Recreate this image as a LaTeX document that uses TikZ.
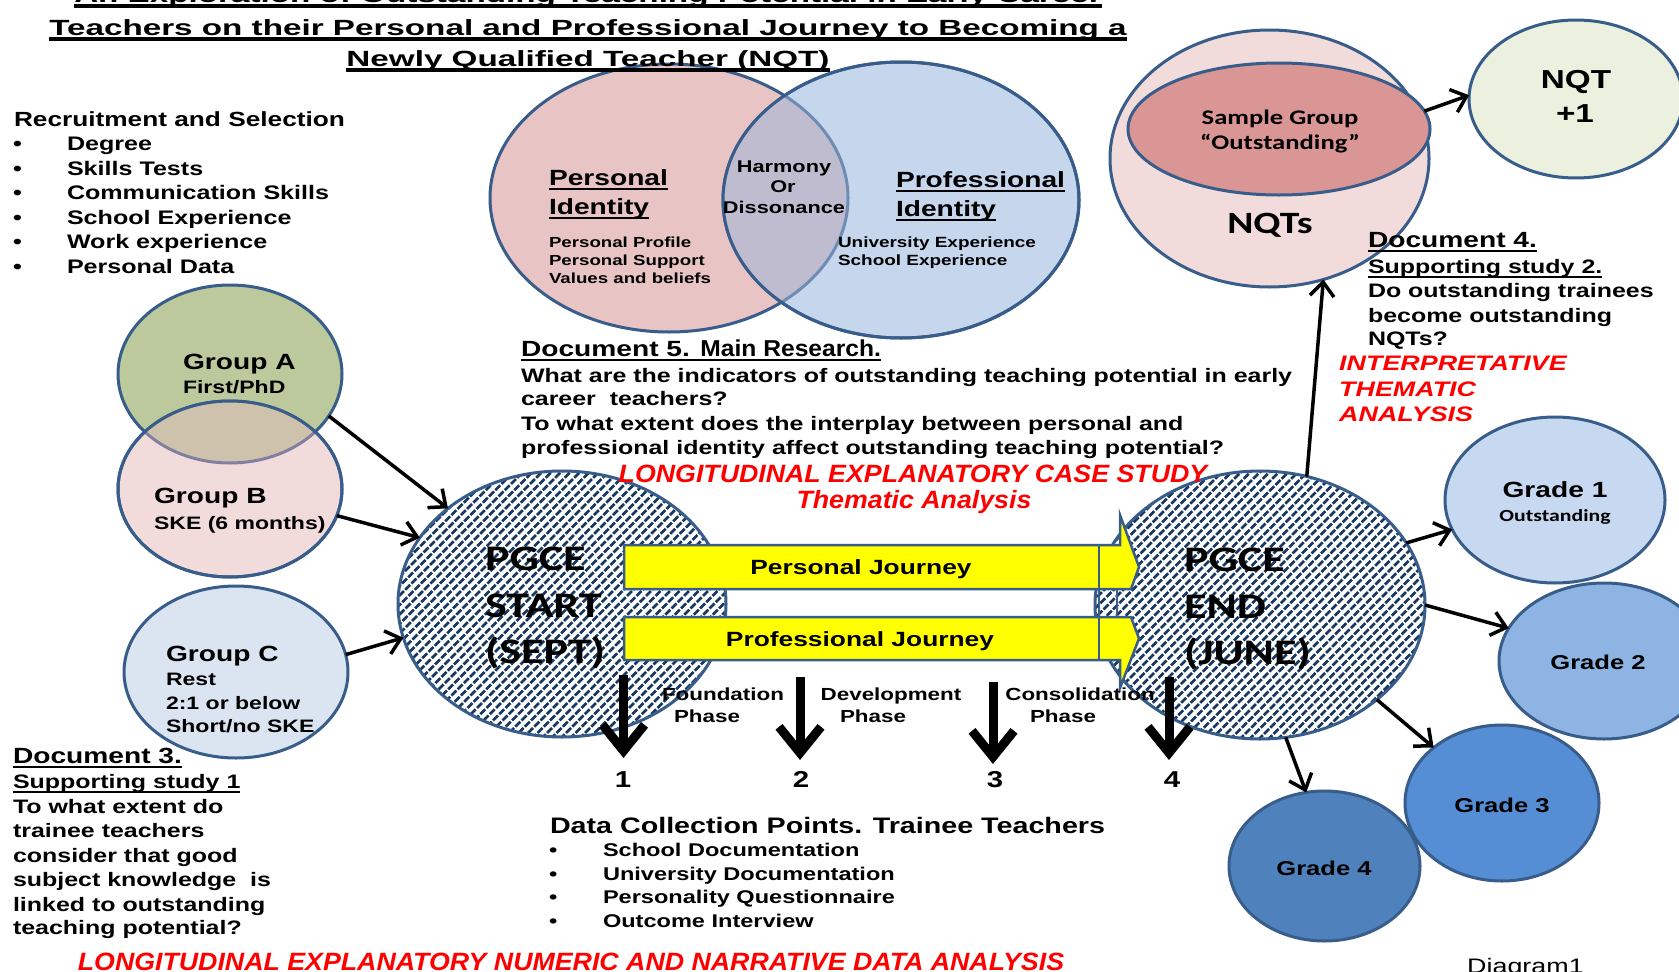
\documentclass[tikz,border=0pt]{standalone}
\usepackage{fontspec}
\setmainfont{Liberation Sans}[FakeStretch=1.28]
\newfontfamily\titlefont{Liberation Sans}[FakeStretch=1.51]
\newfontfamily\narrowfont{Liberation Sans}[FakeStretch=1.07]
\newfontfamily\calfont{Carlito}[FakeStretch=1.28]
\usetikzlibrary{shapes.geometric,arrows.meta}

\definecolor{steel}{RGB}{56,93,138}
\definecolor{hatchblue}{RGB}{23,55,94}
\definecolor{vennpink}{RGB}{232,196,196}
\definecolor{vennblue}{RGB}{198,214,236}
\definecolor{vennmix}{RGB}{192,188,208}
\definecolor{vennarc}{RGB}{110,140,180}
\definecolor{grpA}{RGB}{187,201,157}
\definecolor{grpB}{RGB}{242,220,219}
\definecolor{grpAB}{RGB}{207,194,172}
\definecolor{grparc}{RGB}{130,128,160}
\definecolor{grpC}{RGB}{219,229,241}
\definecolor{nqtpink}{RGB}{242,220,219}
\definecolor{samplered}{RGB}{217,150,148}
\definecolor{nqtgreen}{RGB}{235,241,222}
\definecolor{gradeA}{RGB}{198,217,240}
\definecolor{gradeB}{RGB}{141,180,226}
\definecolor{gradeC}{RGB}{85,142,213}
\definecolor{gradeD}{RGB}{79,129,189}
\definecolor{baryellow}{RGB}{255,255,0}
\definecolor{redtext}{RGB}{255,0,0}

\newcommand{\fsz}[1]{\fontsize{#1}{#1}\selectfont}
\newcommand{\ulin}[1]{\leavevmode\setbox0=\hbox{#1}\rlap{\rule[-5pt]{\wd0}{2.2pt}}\box0}
\newcommand{\ultitle}[1]{\leavevmode\setbox0=\hbox{#1}\rlap{\rule[-6pt]{\wd0}{3.6pt}}\box0}

\tikzset{
  lbl/.style={inner sep=0pt, outer sep=0pt, anchor=base west, font=\fsz{#1}\bfseries},
  clbl/.style={inner sep=0pt, outer sep=0pt, anchor=base, font=\fsz{#1}\bfseries},
  blob/.style={ellipse, inner sep=0pt, outer sep=0pt, draw=steel, line width=3pt},
  hatchline/.style={hatchblue, line width=2.6pt, dash pattern=on 7pt off 1.8pt},
  link/.style={line width=3.5pt, -{Straight Barb[length=14pt,width=24pt]}},
  drop/.style={line width=9pt, -{Straight Barb[length=26pt,width=42pt]}},
  bar/.style={draw=steel, line width=2.5pt, fill=baryellow, line join=miter},
  redbig/.style={inner sep=0pt, anchor=base, text=redtext, font=\narrowfont\fsz{25}\bfseries\itshape},
  redside/.style={inner sep=0pt, anchor=base west, text=redtext, font=\fsz{21}\bfseries\itshape},
}

\begin{document}
\begin{tikzpicture}[x=1pt,y=-1pt]
\useasboundingbox (0,0) rectangle (1679,972);
\fill[white] (0,0) rectangle (1679,972);

% ---------- identity Venn diagram ----------
\node[blob, fill=vennpink, minimum width=358pt, minimum height=268pt] (pers) at (669,198) {};
\node[blob, fill=vennblue, minimum width=356pt, minimum height=276pt] (prof) at (901,200) {};
\begin{scope}
  \clip (901,200) ellipse [x radius=178pt, y radius=138pt];
  \fill[vennmix] (669,198) ellipse [x radius=179pt, y radius=134pt];
  \draw[vennarc, line width=3pt] (669,198) ellipse [x radius=179pt, y radius=134pt];
\end{scope}
\draw[steel, line width=3pt] (901,200) ellipse [x radius=178pt, y radius=138pt];

\node[lbl=22] (pid1) at (549,185) {\ulin{Personal}};
\node[lbl=22] (pid2) at (549,214) {\ulin{Identity}};
\node[lbl=14.6] (pp1) at (549,247) {Personal Profile};
\node[lbl=14.6] (pp2) at (549,265) {Personal Support};
\node[lbl=14.6] (pp3) at (549,283) {Values and beliefs};
\node[lbl=22] (prid1) at (896,187) {\ulin{Professional}};
\node[lbl=22] (prid2) at (896,216) {\ulin{Identity}};
\node[lbl=14.8] (ue) at (838,247) {University Experience};
\node[lbl=14.8] (se) at (838,265) {School Experience};
\node[clbl=17] (hm1) at (784,172) {Harmony};
\node[clbl=17] (hm2) at (783,192) {Or};
\node[clbl=17] (hm3) at (784,213) {Dissonance};

% ---------- title ----------
\node[clbl=22, font=\titlefont\fsz{22}\bfseries] (t1) at (588,2) {\ultitle{An Exploration of Outstanding Teaching Potential in Early Career}};
\node[clbl=22, font=\titlefont\fsz{22}\bfseries] (t2) at (588,35) {\ultitle{Teachers on their Personal and Professional Journey to Becoming a}};
\node[clbl=22, font=\titlefont\fsz{22}\bfseries] (t3) at (588,66) {\ultitle{Newly Qualified Teacher (NQT)}};

% ---------- recruitment list ----------
\node[lbl=20.5] (rs) at (14,126) {Recruitment and Selection};
\foreach \t [count=\i] in {Degree, Skills Tests, Communication Skills, School Experience, Work experience, Personal Data} {
  \node[lbl=19.6] (rb\i) at (13,{126+24.5*\i}) {\textbullet};
  \node[lbl=19.6] (ri\i) at (67,{126+24.5*\i}) {\t};
}

% ---------- entry groups ----------
\node[blob, fill=grpA, minimum width=224pt, minimum height=178pt] (gA) at (230,374) {};
\node[blob, fill=grpB, minimum width=224pt, minimum height=176pt] (gB) at (230,489) {};
\begin{scope}
  \clip (230,489) ellipse [x radius=112pt, y radius=88pt];
  \fill[grpAB] (230,374) ellipse [x radius=112pt, y radius=89pt];
  \draw[grparc, line width=3pt] (230,374) ellipse [x radius=112pt, y radius=89pt];
\end{scope}
\draw[steel, line width=3pt] (230,489) ellipse [x radius=112pt, y radius=88pt];
\node[blob, fill=grpC, minimum width=224pt, minimum height=172pt] (gC) at (236,672) {};

\node[lbl=22] (gAt1) at (183,369) {Group A};
\node[lbl=18] (gAt2) at (183,393) {First/PhD};
\node[lbl=22] (gBt1) at (154,503) {Group B};
\node[lbl=18] (gBt2) at (154,529) {SKE (6 months)};
\node[lbl=22] (gCt1) at (166,661) {Group C};
\node[lbl=18] (gCt2) at (166,685) {Rest};
\node[lbl=18] (gCt3) at (166,709) {2:1 or below};
\node[lbl=18] (gCt4) at (166,732) {Short/no SKE};

% ---------- PGCE start and end (hatched) ----------
\begin{scope}
  \clip (562,604) ellipse [x radius=164pt, y radius=133pt];
  \fill[white] (562,604) ellipse [x radius=164pt, y radius=133pt];
  \foreach \k in {-36,...,36} \draw[hatchline] ({562+\k*9.5-160},{604+160}) -- ++(320,-320);
\end{scope}
\node[blob, minimum width=328pt, minimum height=266pt] (start) at (562,604) {};

\begin{scope}
  \clip (1260,605) ellipse [x radius=165pt, y radius=134pt];
  \fill[white] (1260,605) ellipse [x radius=165pt, y radius=134pt];
  \foreach \k in {-36,...,36} \draw[hatchline] ({1260+\k*9.5-160},{605+160}) -- ++(320,-320);
\end{scope}
\node[blob, minimum width=330pt, minimum height=268pt] (end) at (1260,605) {};

% ---------- journey bars ----------
\draw[bar] (624,545) -- (1120,545) -- (1120,515) -- (1139,567) -- (1131,589) -- (624,589) -- cycle;
\draw[bar] (624,617) -- (1131,617) -- (1139,638.5) -- (1120,688) -- (1120,660) -- (624,660) -- cycle;
\draw[steel, line width=2.5pt] (1099,545) -- (1099,589);
\draw[steel, line width=2.5pt] (1099,617) -- (1099,660);
\draw[steel, line width=2.5pt] (1099,589) rectangle (1117,617);
\node[clbl=20.6] (pj) at (861,574) {Personal Journey};
\node[clbl=20.6] (fj) at (860,646) {Professional Journey};

\node[lbl=36, font=\calfont\fsz{36}\bfseries] (ps1) at (485,570) {PGCE};
\node[lbl=36, font=\calfont\fsz{36}\bfseries] (ps2) at (485,617) {START};
\node[lbl=36, font=\calfont\fsz{36}\bfseries] (ps3) at (485,663) {(SEPT)};
\node[lbl=36, font=\calfont\fsz{36}\bfseries] (pe1) at (1184,571) {PGCE};
\node[lbl=36, font=\calfont\fsz{36}\bfseries] (pe2) at (1184,618) {END};
\node[lbl=36, font=\calfont\fsz{36}\bfseries] (pe3) at (1184,664) {(JUNE)};

% ---------- data collection points ----------
\coordinate (d1a) at (623.5,675); \coordinate (d1b) at (623.5,758);
\coordinate (d2a) at (800,677);   \coordinate (d2b) at (800,760);
\coordinate (d3a) at (993,682);   \coordinate (d3b) at (993,764);
\coordinate (d4a) at (1169,677);  \coordinate (d4b) at (1169,760);
\draw[drop] (d1a) -- (d1b);
\draw[drop] (d2a) -- (d2b);
\draw[drop] (d3a) -- (d3b);
\draw[drop] (d4a) -- (d4b);
\node[clbl=23] (n1) at (623,787) {1};
\node[clbl=23] (n2) at (801,787) {2};
\node[clbl=23] (n3) at (995,787) {3};
\node[clbl=23] (n4) at (1172,787) {4};
\node[clbl=17.5] (ph1a) at (723,700) {Foundation};
\node[clbl=17.5] (ph1b) at (707,722) {Phase};
\node[clbl=17.5] (ph2a) at (891,700) {Development};
\node[clbl=17.5] (ph2b) at (873,722) {Phase};
\node[clbl=17.5] (ph3a) at (1080,700) {Consolidation};
\node[clbl=17.5] (ph3b) at (1063,722) {Phase};

% ---------- main research ----------
\node[lbl=22] (d5a) at (521,356) {\ulin{Document 5. {\narrowfont\fsz{23}Main Research.}}};
\node[lbl=19.5] (d5b) at (521,382) {What are the indicators of outstanding teaching potential in early};
\node[lbl=19.5] (d5c) at (521,405) {career\ \ teachers?};
\node[lbl=19.5] (d5d) at (521,430) {To what extent does the interplay between personal and};
\node[lbl=19.5] (d5e) at (521,454) {professional identity affect outstanding teaching potential?};
\node[redbig] (r1) at (913,482) {LONGITUDINAL EXPLANATORY CASE STUDY};
\node[redbig] (r2) at (914,508) {Thematic Analysis};

% ---------- NQT outcomes ----------
\node[blob, fill=nqtpink, minimum width=319pt, minimum height=257pt] (nqts) at (1269.5,158.5) {};
\node[blob, fill=samplered, minimum width=302pt, minimum height=132pt] (sample) at (1279,129) {};
\node[clbl=20.8, font=\calfont\fsz{20.8}\bfseries] (sg1) at (1280,124) {Sample Group};
\node[clbl=20.8, font=\calfont\fsz{20.8}\bfseries] (sg2) at (1280,149) {“Outstanding”};
\node[clbl=31, font=\calfont\fsz{31}\bfseries] (nq) at (1270,233) {NQTs};
\node[blob, fill=nqtgreen, minimum width=214pt, minimum height=158pt] (nqt1) at (1576,99) {};
\node[clbl=26] (nq1a) at (1576,88) {NQT};
\node[clbl=26] (nq1b) at (1575,122) {+1};

\node[lbl=22] (d4a) at (1368,247) {\ulin{Document 4.}};
\node[lbl=19.5] (d4b) at (1368,273) {\ulin{Supporting study 2.}};
\node[lbl=19.5] (d4c) at (1368,297) {Do outstanding trainees};
\node[lbl=19.5] (d4d) at (1368,322) {become outstanding};
\node[lbl=19.5] (d4e) at (1368,345) {NQTs?};
\node[redside] (r3) at (1339,370) {INTERPRETATIVE};
\node[redside] (r4) at (1339,396) {THEMATIC};
\node[redside] (r5) at (1339,421) {ANALYSIS};

% ---------- grades ----------
\node[blob, fill=gradeA, minimum width=220pt, minimum height=166pt] (g1) at (1555,500) {};
\node[blob, fill=gradeB, minimum width=210pt, minimum height=156pt] (g2) at (1604,661) {};
\node[blob, fill=gradeC, minimum width=194pt, minimum height=156pt] (g3) at (1502,803) {};
\node[blob, fill=gradeD, minimum width=191pt, minimum height=150pt] (g4) at (1324.5,866) {};
\node[clbl=22] (g1t) at (1555,497) {Grade 1};
\node[clbl=17, font=\calfont\fsz{17}\bfseries] (g1s) at (1555,521) {Outstanding};
\node[clbl=20] (g2t) at (1598,669) {Grade 2};
\node[clbl=20] (g3t) at (1502,812) {Grade 3};
\node[clbl=20] (g4t) at (1324,875) {Grade 4};
\node[inner sep=0pt, anchor=base west, font=\fsz{21}] (dg) at (1467,973) {Diagram1};

% ---------- data collection list ----------
\node[lbl=22.4] (dc) at (550,833) {Data Collection Points. Trainee Teachers};
\foreach \t/\yy [count=\i] in {School Documentation/856, University Documentation/880, Personality Questionnaire/903, Outcome Interview/927} {
  \node[lbl=18.4] (db\i) at (549,\yy) {\textbullet};
  \node[lbl=18.4] (di\i) at (603,\yy) {\t};
}

% ---------- supporting study 1 ----------
\node[lbl=22] (d3a) at (13,763) {\ulin{Document 3.}};
\node[lbl=19.5] (d3b) at (13,788) {\ulin{Supporting study 1}};
\node[lbl=19.5] (d3c) at (13,813) {To what extent do};
\node[lbl=19.5] (d3d) at (13,837) {trainee teachers};
\node[lbl=19.5] (d3e) at (13,862) {consider that good};
\node[lbl=19.5] (d3f) at (13,886) {subject knowledge\ \ is};
\node[lbl=19.5] (d3g) at (13,911) {linked to outstanding};
\node[lbl=19.5] (d3h) at (13,934) {teaching potential?};
\node[redbig] (r6) at (571,970) {LONGITUDINAL EXPLANATORY NUMERIC AND NARRATIVE DATA ANALYSIS};

% ---------- connectors ----------
\draw[link] (gA.-23.7) -- (start.140.6);
\draw[link] (gB.-14.7) -- (start.155.4);
\draw[link] (gC.9.9) -- (start.-168.4);
\draw[link] (end.70.8) -- (nqts.-66.7);
\draw[link] (sample.7) -- (nqt1.178.4);
\draw[link] (end.23.2) -- (g1.-164.4);
\draw[link] (end.-0.3) -- (g2.161.6);
\draw[link] (end.-39.1) -- (g3.141.3);
\draw[link] (end.-79.9) -- (g4.104.9);
\end{tikzpicture}
\end{document}
